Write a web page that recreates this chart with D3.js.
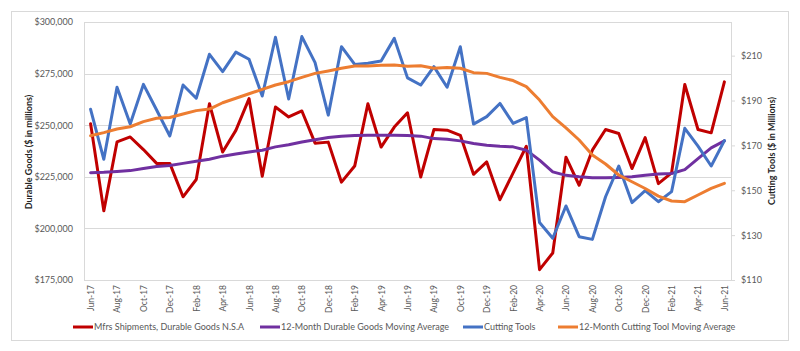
<!DOCTYPE html>
<html>
<head>
<meta charset="utf-8">
<script src="https://cdn.jsdelivr.net/npm/d3@7"></script>
<style>
  body { margin: 0; background: #fff; }
  text { font-family: Lato, "Liberation Sans", sans-serif; }
</style>
</head>
<body>
<script>
var months = ["Jun-17","Jul-17","Aug-17","Sep-17","Oct-17","Nov-17","Dec-17","Jan-18","Feb-18","Mar-18","Apr-18","May-18",
  "Jun-18","Jul-18","Aug-18","Sep-18","Oct-18","Nov-18","Dec-18","Jan-19","Feb-19","Mar-19","Apr-19","May-19",
  "Jun-19","Jul-19","Aug-19","Sep-19","Oct-19","Nov-19","Dec-19","Jan-20","Feb-20","Mar-20","Apr-20","May-20",
  "Jun-20","Jul-20","Aug-20","Sep-20","Oct-20","Nov-20","Dec-20","Jan-21","Feb-21","Mar-21","Apr-21","May-21","Jun-21"];

// $ millions (left axis)
var shipments = [250700,208500,241900,244300,238200,231500,231500,215300,223700,260400,237000,247500,
  262900,225300,258800,254000,256900,241300,241800,222400,230200,260400,239400,249100,
  256000,224900,247900,247600,245100,226200,232200,213900,226900,239800,180000,188100,
  234500,220900,237900,247900,246000,229000,244000,221700,226900,269700,247900,246300,271000];

var durableMA = [227000,227200,227600,228000,229000,230000,230500,231500,232500,233500,235000,236000,
  237000,237900,239500,240500,241900,243000,244000,244700,245000,245100,245100,245100,
  245000,244700,243500,243200,242400,241100,240300,239800,239500,237900,233100,227400,
  225700,225000,224500,224500,224700,225000,225800,226300,226600,228500,233800,239000,242400];

// $ millions (right axis)
var cutting = [186.1,163.8,195.9,179.5,197.2,185.8,174.2,196.9,191.0,210.6,202.9,211.6,
  208.4,192.0,218.2,190.7,218.5,206.9,183.5,214.0,206.1,206.6,207.6,217.7,
  200.1,196.9,205.1,195.9,214.0,179.5,182.8,188.7,179.8,182.4,135.6,128.6,
  143.0,129.3,128.1,147.1,160.8,144.5,149.8,144.9,149.4,177.6,169.7,160.8,172.1];

var cuttingMA = [174.3,175.7,177.3,178.3,180.6,182.1,182.4,184.0,185.5,186.2,189.0,191.0,
  193.0,195.0,196.9,198.4,200.3,202.1,203.2,204.4,205.4,205.4,205.7,205.8,
  205.3,205.5,204.4,204.7,204.4,202.4,202.1,200.3,198.9,196.2,190.2,182.8,
  177.8,172.4,165.7,161.7,156.8,153.8,150.8,147.4,145.2,144.9,147.9,150.8,153.1];

var leftTicks = [175000,200000,225000,250000,275000,300000],
    rightTicks = [110,130,150,170,190,210];

var series = [
  {name: "Mfrs Shipments, Durable Goods N.S.A", values: shipments, axis: "left", color: "#c00000", lx: 73},
  {name: "12-Month Durable Goods Moving Average", values: durableMA, axis: "left", color: "#7030a0", lx: 260},
  {name: "Cutting Tools", values: cutting, axis: "right", color: "#4472c4", lx: 463},
  {name: "12-Month Cutting Tool Moving Average", values: cuttingMA, axis: "right", color: "#ed7d31", lx: 558}
];

var W = 800, H = 351,
    pL = 84, pR = 731, pT = 22, pB = 280;

var svg = d3.select("body").append("svg")
    .attr("width", W)
    .attr("height", H);

// chart border
svg.append("rect")
    .attr("x", 11.5).attr("y", 11.5)
    .attr("width", 777).attr("height", 329)
    .attr("fill", "#fff").attr("stroke", "#d9d9d9");

var x = d3.scalePoint().domain(months).range([pL, pR]).padding(0.5);
var yL = d3.scaleLinear().domain([175000, 300000]).range([pB, pT]);
var yR = d3.scaleLinear().domain([110, 225]).range([pB, pT]);

// gridlines
svg.append("g")
  .selectAll("line")
    .data(leftTicks)
  .enter().append("line")
    .attr("x1", pL).attr("x2", pR)
    .attr("y1", function(d) { return Math.round(yL(d)) + 0.5; })
    .attr("y2", function(d) { return Math.round(yL(d)) + 0.5; })
    .attr("stroke", "#d9d9d9");

svg.append("rect")
    .attr("x", pL + 0.5).attr("y", pT + 0.5)
    .attr("width", pR - pL).attr("height", pB - pT)
    .attr("fill", "none").attr("stroke", "#d9d9d9");

// left axis
var axL = svg.append("g")
    .attr("transform", "translate(" + pL + ",0)")
    .call(d3.axisLeft(yL).tickValues(leftTicks).tickSize(0).tickPadding(11)
      .tickFormat(function(d) { return "$" + d3.format(",")(d); }));
axL.select(".domain").remove();
axL.selectAll("text").attr("fill", "#595959").style("font-size", "9px");

// right axis
var axR = svg.append("g")
    .attr("transform", "translate(" + pR + ",0)")
    .call(d3.axisRight(yR).tickValues(rightTicks).tickSize(4).tickPadding(6)
      .tickFormat(function(d) { return "$" + d; }));
axR.select(".domain").remove();
axR.selectAll("line").attr("stroke", "#d9d9d9");
axR.selectAll("text").attr("fill", "#595959").style("font-size", "9px");

// x axis
var axX = svg.append("g")
    .attr("transform", "translate(0," + pB + ")")
    .call(d3.axisBottom(x).tickValues(months.filter(function(d, i) { return i % 2 === 0; })).tickSize(0));
axX.select(".domain").remove();
axX.selectAll("text")
    .attr("fill", "#595959")
    .style("font-size", "8.5px")
    .attr("text-anchor", "end")
    .attr("transform", "rotate(-90)")
    .attr("x", -5).attr("y", 0).attr("dy", "0.35em");

// axis titles
svg.append("text")
    .attr("transform", "translate(32,152) rotate(-90)")
    .attr("text-anchor", "middle")
    .style("font-size", "9px").style("font-weight", "bold")
    .attr("fill", "#262626")
    .text("Durable Goods ($ in millions)");

svg.append("text")
    .attr("transform", "translate(775,151) rotate(-90)")
    .attr("text-anchor", "middle")
    .style("font-size", "9px").style("font-weight", "bold")
    .attr("fill", "#262626")
    .text("Cutting Tools ($ in Millions)");

// lines
var lineL = d3.line()
    .x(function(d, i) { return x(months[i]); })
    .y(function(d) { return yL(d); });
var lineR = d3.line()
    .x(function(d, i) { return x(months[i]); })
    .y(function(d) { return yR(d); });

svg.append("g")
  .selectAll("path")
    .data(series)
  .enter().append("path")
    .attr("d", function(d) { return d.axis === "left" ? lineL(d.values) : lineR(d.values); })
    .attr("fill", "none")
    .attr("stroke", function(d) { return d.color; })
    .attr("stroke-width", 3)
    .attr("stroke-linejoin", "round")
    .attr("stroke-linecap", "round");

// legend
var lg = svg.append("g").selectAll("g")
    .data(series)
  .enter().append("g")
    .attr("transform", function(d) { return "translate(" + d.lx + ",327)"; });
lg.append("line")
    .attr("x1", 0).attr("x2", 20)
    .attr("stroke", function(d) { return d.color; })
    .attr("stroke-width", 3);
lg.append("text")
    .attr("x", 21).attr("dy", "0.35em")
    .style("font-size", "9px")
    .attr("fill", "#595959")
    .text(function(d) { return d.name; });
</script>
</body>
</html>
